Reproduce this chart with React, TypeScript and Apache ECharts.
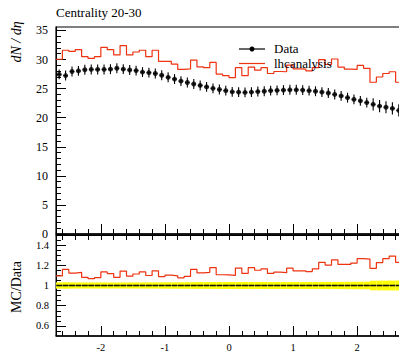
import React, { useEffect, useRef } from "react";
import * as echarts from "echarts";

const etaCenters = [
  -2.65, -2.55, -2.45, -2.35, -2.25, -2.15, -2.05, -1.95, -1.85, -1.75,
  -1.65, -1.55, -1.45, -1.35, -1.25, -1.15, -1.05, -0.95, -0.85, -0.75,
  -0.65, -0.55, -0.45, -0.35, -0.25, -0.15, -0.05, 0.05, 0.15, 0.25,
  0.35, 0.45, 0.55, 0.65, 0.75, 0.85, 0.95, 1.05, 1.15, 1.25,
  1.35, 1.45, 1.55, 1.65, 1.75, 1.85, 1.95, 2.05, 2.15, 2.25,
  2.35, 2.45, 2.55, 2.65,
];

const dataValues = [
  27.45, 27.25, 27.95, 28.05, 28.25, 28.3, 28.3, 28.3, 28.35, 28.5,
  28.35, 28.2, 28.1, 27.85, 27.75, 27.6, 27.3, 26.95, 26.65, 26.3,
  26.05, 25.8, 25.55, 25.3, 25.05, 24.85, 24.65, 24.45, 24.4, 24.35,
  24.4, 24.5, 24.55, 24.65, 24.7, 24.75, 24.8, 24.8, 24.75, 24.65,
  24.55, 24.4, 24.25, 24.0, 23.75, 23.45, 23.15, 22.9, 22.6, 22.3,
  22.0, 21.8, 21.6, 21.25,
];

const dataErrors = [
  0.85, 0.85, 0.85, 0.85, 0.85, 0.85, 0.85, 0.85, 0.85, 0.85,
  0.85, 0.85, 0.85, 0.85, 0.85, 0.85, 0.85, 0.85, 0.85, 0.85,
  0.85, 0.85, 0.85, 0.85, 0.85, 0.85, 0.85, 0.85, 0.85, 0.85,
  0.85, 0.85, 0.85, 0.85, 0.85, 0.85, 0.85, 0.85, 0.85, 0.85,
  0.85, 0.85, 0.85, 0.85, 0.85, 0.85, 0.85, 0.85, 0.85, 1.05,
  1.05, 1.05, 1.05, 1.05,
];

const mcValues = [
  30.05, 31.6, 31.4, 31.7, 30.5, 30.2, 30.5, 32.1, 31.7, 30.8,
  32.4, 30.8, 31.3, 31.6, 30.5, 31.6, 29.7, 29.7, 29.2, 28.3,
  28.4, 29.9, 28.75, 28.6, 29.5, 27.5, 27.25, 26.9, 28.6, 27.25,
  28.7, 28.2, 28.6, 27.6, 27.95, 27.9, 29.05, 28.4, 28.35, 28.05,
  28.6, 30.0, 29.15, 30.1, 28.7, 28.35, 28.3, 29.0, 28.5, 26.1,
  27.0, 27.6, 27.9, 26.1,
];

const xMajorTicks = [-2, -1, 0, 1, 2];
const xMinorTicks = [
  -2.6, -2.4, -2.2, -1.8, -1.6, -1.4, -1.2, -0.8, -0.6, -0.4, -0.2,
  0.2, 0.4, 0.6, 0.8, 1.2, 1.4, 1.6, 1.8, 2.2, 2.4, 2.6,
];
const xAllTicks = [
  -2.6, -2.4, -2.2, -2, -1.8, -1.6, -1.4, -1.2, -1, -0.8, -0.6, -0.4, -0.2, 0,
  0.2, 0.4, 0.6, 0.8, 1, 1.2, 1.4, 1.6, 1.8, 2, 2.2, 2.4, 2.6,
];
const yMajorTicks = [0, 5, 10, 15, 20, 25, 30, 35];
const yMinorTicks = [
  1, 2, 3, 4, 6, 7, 8, 9, 11, 12, 13, 14, 16, 17, 18, 19, 21, 22, 23, 24,
  26, 27, 28, 29, 31, 32, 33, 34,
];
const rMajorTicks = [0.6, 0.8, 1, 1.2, 1.4];
const rMinorTicks = [
  0.55, 0.65, 0.7, 0.75, 0.85, 0.9, 0.95, 1.05, 1.1, 1.15, 1.25, 1.3, 1.35, 1.45,
];

const halfBin = 0.05;
const FONT = "'Liberation Serif', 'DejaVu Serif', serif";
const RED = "#ee3311";

export default function App() {
  const ref = useRef<HTMLDivElement>(null);

  useEffect(() => {
    if (!ref.current) return;
    const chart = echarts.init(ref.current, undefined, { renderer: "svg" });

    const mcStep: number[][] = etaCenters.map((c, i) => [c - halfBin, mcValues[i]]);
    mcStep.push([etaCenters[etaCenters.length - 1] + halfBin, mcValues[mcValues.length - 1]]);
    const ratioValues = mcValues.map((m, i) => m / dataValues[i]);
    const ratioStep: number[][] = etaCenters.map((c, i) => [c - halfBin, ratioValues[i]]);
    ratioStep.push([etaCenters[etaCenters.length - 1] + halfBin, ratioValues[ratioValues.length - 1]]);
    const errData = etaCenters.map((c, i) => [c, dataValues[i], dataErrors[i]]);
    const bandData = etaCenters.map((c, i) => [
      c,
      1 - dataErrors[i] / dataValues[i],
      1 + dataErrors[i] / dataValues[i],
    ]);
    const ones = etaCenters.map((c) => [c, 1]);

    const xBase = {
      type: "value" as const,
      min: -2.7,
      max: 2.7,
      splitLine: { show: false },
    };
    const yBase = { type: "value" as const, splitLine: { show: false } };

    const option: any = {
      animation: false,
      grid: [
        { left: 56, top: 27, width: 346, height: 207, show: true, borderColor: "#000", borderWidth: 1.2, backgroundColor: "transparent" },
        { left: 56, top: 235, width: 346, height: 102, show: true, borderColor: "#000", borderWidth: 1, backgroundColor: "transparent" },
      ],
      xAxis: [
        {
          ...xBase, gridIndex: 0, position: "bottom",
          axisLine: { show: true, onZero: false, lineStyle: { color: "#000", width: 1.5 } },
          axisTick: { show: true, inside: true, length: 10, customValues: xMajorTicks, lineStyle: { color: "#000" } },
          axisLabel: { show: false },
        },
        {
          ...xBase, gridIndex: 0, position: "bottom",
          axisLine: { show: false, onZero: false },
          axisTick: { show: true, inside: true, length: 5, customValues: xMinorTicks, lineStyle: { color: "#000" } },
          axisLabel: { show: false },
        },
        {
          ...xBase, gridIndex: 1, position: "bottom",
          axisLine: { show: true, onZero: false, lineStyle: { color: "#000", width: 1.5 } },
          axisTick: { show: true, inside: true, length: 10, customValues: xMajorTicks, lineStyle: { color: "#000" } },
          axisLabel: { show: true, customValues: xMajorTicks, margin: 6, fontFamily: FONT, fontSize: 10.5, color: "#000" },
        },
        {
          ...xBase, gridIndex: 1, position: "bottom",
          axisLine: { show: false, onZero: false },
          axisTick: { show: true, inside: true, length: 5, customValues: xMinorTicks, lineStyle: { color: "#000" } },
          axisLabel: { show: false },
        },
        {
          ...xBase, gridIndex: 1, position: "top",
          axisLine: { show: true, onZero: false, lineStyle: { color: "#000", width: 1 } },
          axisTick: { show: true, inside: true, length: 5, customValues: xAllTicks, lineStyle: { color: "#000" } },
          axisLabel: { show: false },
        },
      ],
      yAxis: [
        {
          ...yBase, gridIndex: 0, min: 0, max: 35.6, position: "left",
          axisLine: { show: true, onZero: false, lineStyle: { color: "#000", width: 1 } },
          axisTick: { show: true, inside: true, length: 10, customValues: yMajorTicks, lineStyle: { color: "#000" } },
          axisLabel: { show: true, customValues: yMajorTicks, margin: 8, fontFamily: FONT, fontSize: 12, color: "#000" },
        },
        {
          ...yBase, gridIndex: 0, min: 0, max: 35.6, position: "left",
          axisLine: { show: false, onZero: false },
          axisTick: { show: true, inside: true, length: 5, customValues: yMinorTicks, lineStyle: { color: "#000" } },
          axisLabel: { show: false },
        },
        {
          ...yBase, gridIndex: 1, min: 0.5, max: 1.5, position: "left",
          axisLine: { show: true, onZero: false, lineStyle: { color: "#000", width: 1 } },
          axisTick: { show: true, inside: true, length: 10, customValues: rMajorTicks, lineStyle: { color: "#000" } },
          axisLabel: { show: true, customValues: rMajorTicks, margin: 7, fontFamily: FONT, fontSize: 10.5, color: "#000" },
        },
        {
          ...yBase, gridIndex: 1, min: 0.5, max: 1.5, position: "left",
          axisLine: { show: false, onZero: false },
          axisTick: { show: true, inside: true, length: 5, customValues: rMinorTicks, lineStyle: { color: "#000" } },
          axisLabel: { show: false },
        },
      ],
      series: [
        {
          name: "lhcanalysis",
          type: "line",
          xAxisIndex: 0,
          yAxisIndex: 0,
          step: "end",
          symbol: "none",
          data: mcStep,
          lineStyle: { color: RED, width: 1.2 },
          z: 3,
        },
        {
          name: "Data errors",
          type: "custom",
          xAxisIndex: 0,
          yAxisIndex: 0,
          data: errData,
          z: 4,
          renderItem: (_p: any, api: any) => {
            const x = api.value(0), y = api.value(1), e = api.value(2);
            const t = api.coord([x, y + e]);
            const b = api.coord([x, y - e]);
            const l = api.coord([x - 0.035, y]);
            const r = api.coord([x + 0.035, y]);
            return {
              type: "group",
              children: [
                { type: "line", shape: { x1: t[0], y1: t[1], x2: b[0], y2: b[1] }, style: { stroke: "#000", lineWidth: 1.1 } },
                { type: "line", shape: { x1: l[0], y1: l[1], x2: r[0], y2: r[1] }, style: { stroke: "#000", lineWidth: 1.1 } },
              ],
            };
          },
        },
        {
          name: "Data",
          type: "scatter",
          xAxisIndex: 0,
          yAxisIndex: 0,
          symbol: "circle",
          symbolSize: 5,
          itemStyle: { color: "#000" },
          data: etaCenters.map((c, i) => [c, dataValues[i]]),
          z: 5,
        },
        {
          name: "Band",
          type: "custom",
          xAxisIndex: 2,
          yAxisIndex: 2,
          data: bandData,
          z: 2,
          renderItem: (_p: any, api: any) => {
            const c = api.value(0), lo = api.value(1), hi = api.value(2);
            const p1 = api.coord([c - halfBin, hi]);
            const p2 = api.coord([c + halfBin, lo]);
            return {
              type: "rect",
              shape: { x: p1[0], y: p1[1], width: p2[0] - p1[0], height: p2[1] - p1[1] },
              style: { fill: "#ffff00" },
            };
          },
        },
        {
          name: "Ref",
          type: "custom",
          xAxisIndex: 2,
          yAxisIndex: 2,
          data: ones,
          z: 3,
          renderItem: (_p: any, api: any) => {
            const c = api.value(0), v = api.value(1);
            const a = api.coord([c - 0.046, v]);
            const b = api.coord([c + 0.046, v]);
            return {
              type: "line",
              shape: { x1: a[0], y1: a[1], x2: b[0], y2: b[1] },
              style: { stroke: "#111", lineWidth: 1.6 },
            };
          },
        },
        {
          name: "Ratio",
          type: "line",
          xAxisIndex: 2,
          yAxisIndex: 2,
          step: "end",
          symbol: "none",
          data: ratioStep,
          lineStyle: { color: RED, width: 1.2 },
          z: 4,
        },
      ],
      graphic: [
        {
          type: "text", left: 56, top: 6,
          style: { text: "Centrality 20-30", font: `13px ${FONT}`, fill: "#000" },
        },
        {
          type: "text", x: 16, y: 42, rotation: Math.PI / 2,
          style: { text: "dN / dη", font: `italic 14px ${FONT}`, fill: "#000", align: "center", verticalAlign: "middle" },
        },
        {
          type: "text", x: 16, y: 287, rotation: Math.PI / 2,
          style: { text: "MC/Data", font: `14px ${FONT}`, fill: "#000", align: "center", verticalAlign: "middle" },
        },
        { type: "line", shape: { x1: 239, y1: 49, x2: 265, y2: 49 }, style: { stroke: "#000", lineWidth: 1.2 }, z: 10 },
        { type: "circle", shape: { cx: 252, cy: 49, r: 2.5 }, style: { fill: "#000" }, z: 10 },
        {
          type: "text", x: 274, y: 48.5, z: 10,
          style: { text: "Data", font: `13px ${FONT}`, fill: "#000", verticalAlign: "middle" },
        },
        { type: "line", shape: { x1: 239, y1: 63.5, x2: 265, y2: 63.5 }, style: { stroke: RED, lineWidth: 1.2 }, z: 10 },
        {
          type: "text", x: 274, y: 63, z: 10,
          style: { text: "lhcanalysis", font: `13px ${FONT}`, fill: "#000", verticalAlign: "middle" },
        },
      ],
    };

    chart.setOption(option);
    return () => chart.dispose();
  }, []);

  return (
    <div style={{ position: "fixed", left: 0, top: 0, width: 399, height: 353, overflow: "hidden", background: "#fff" }}>
      <div ref={ref} style={{ width: 406, height: 353 }} />
    </div>
  );
}
